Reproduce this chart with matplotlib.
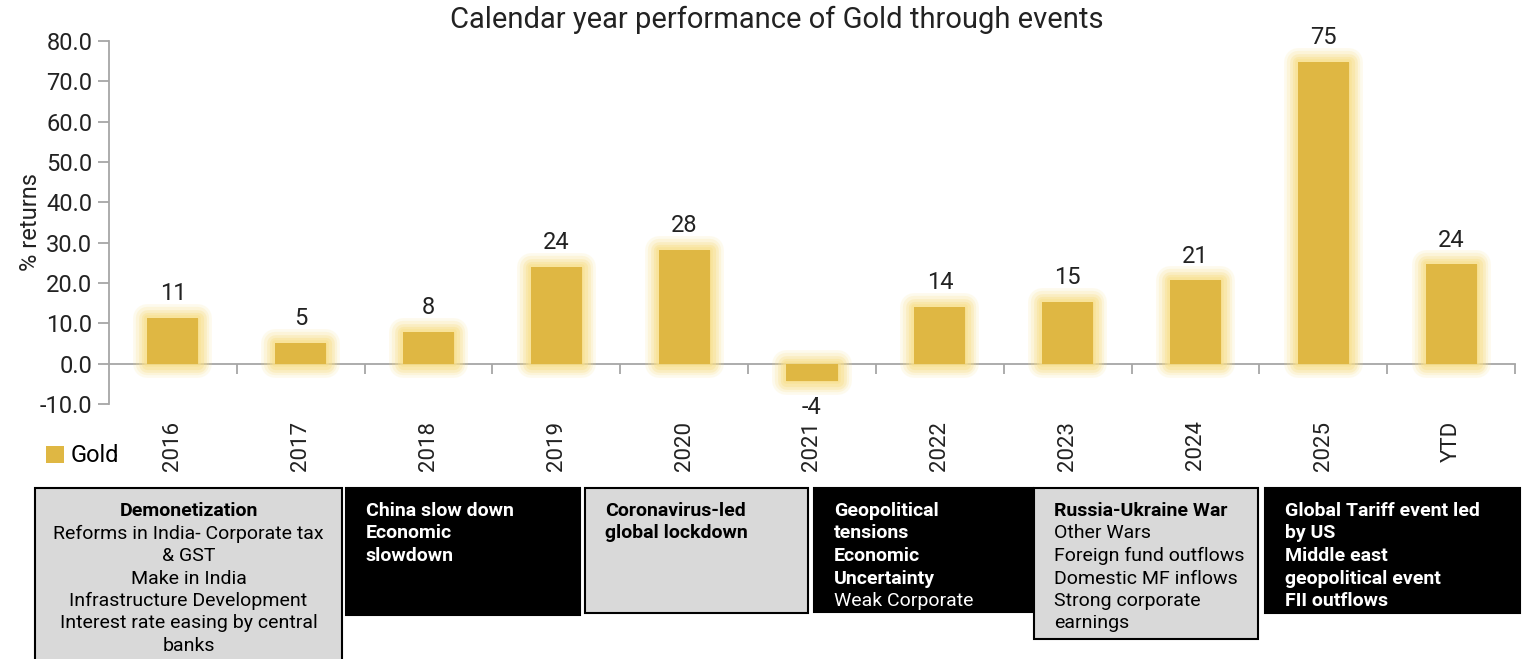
import numpy as np
import matplotlib
matplotlib.use("Agg")
import matplotlib.pyplot as plt
import matplotlib.patheffects as pe
from matplotlib.patches import Rectangle

plt.rcParams['font.family'] = ['Roboto', 'DejaVu Sans']

# data
categories = ['2016', '2017', '2018', '2019', '2020', '2021', '2022', '2023', '2024', '2025', 'YTD']
returns = [11.4, 5.2, 7.9, 24.0, 28.2, -4.2, 14.1, 15.4, 20.7, 74.8, 24.6]
labels = ['11', '5', '8', '24', '28', '-4', '14', '15', '21', '75', '24']

# event boxes: (x0, x1, y0, y1 in px, face, text colour, align, [(line, bold)])
events = [
    (35, 342, 488, 662, '#d9d9d9', 'black', 'center',
     [('Demonetization', True), ('Reforms in India- Corporate tax', False), ('& GST', False),
      ('Make in India', False), ('Infrastructure Development', False),
      ('Interest rate easing by central', False), ('banks', False)]),
    (346, 580, 488, 615, 'black', 'white', 'left',
     [('China slow down', True), ('Economic', True), ('slowdown', True)]),
    (585, 808, 488, 613, '#d9d9d9', 'black', 'left',
     [('Coronavirus-led', True), ('global lockdown', True)]),
    (814, 1033, 488, 612, 'black', 'white', 'left',
     [('Geopolitical', True), ('tensions', True), ('Economic', True), ('Uncertainty', True),
      ('Weak Corporate', False)]),
    (1034, 1258, 488, 639, '#d9d9d9', 'black', 'left',
     [('Russia-Ukraine War', True), ('Other Wars', False), ('Foreign fund outflows', False),
      ('Domestic MF inflows', False), ('Strong corporate', False), ('earnings', False)]),
    (1265, 1520, 488, 613, 'black', 'white', 'left',
     [('Global Tariff event led', True), ('by US', True), ('Middle east', True),
      ('geopolitical event', True), ('FII outflows', True)]),
]

W, H = 1527, 659
fig = plt.figure(figsize=(W / 100, H / 100), dpi=100)
ax = fig.add_axes([109 / W, 1 - 404 / H, (1515 - 109) / W, (404 - 41) / H])

x = np.arange(len(categories))
gold = '#dfb743'
glow = '#f8e08c'
bars = ax.bar(x, returns, width=0.4, color=gold, zorder=3, label='Gold')
for b in bars:
    b.set_path_effects([
        pe.Stroke(linewidth=20, foreground=glow, alpha=0.15, joinstyle='round'),
        pe.Stroke(linewidth=16, foreground=glow, alpha=0.2, joinstyle='round'),
        pe.Stroke(linewidth=12, foreground=glow, alpha=0.3, joinstyle='round'),
        pe.Stroke(linewidth=8, foreground=glow, alpha=0.4, joinstyle='round'),
        pe.Stroke(linewidth=4, foreground=glow, alpha=0.5, joinstyle='round'),
        pe.Normal(),
    ])

txt = '#222222'
for xi, v, lab in zip(x, returns, labels):
    if v >= 0:
        ax.annotate(lab, (xi, v), xytext=(0, 9), textcoords='offset points',
                    ha='center', va='bottom', fontsize=17, color=txt)
    else:
        ax.annotate(lab, (xi, v), xytext=(0, -11), textcoords='offset points',
                    ha='center', va='top', fontsize=17, color=txt)

ax.set_xlim(-0.5, len(categories) - 0.5)
ax.set_ylim(-10, 80)
yt = np.arange(-10, 81, 10)
ax.set_yticks(yt)
ax.set_yticklabels([f'{t:.1f}' for t in yt], fontsize=17, color=txt)

ax.spines['top'].set_visible(False)
ax.spines['right'].set_visible(False)
ax.spines['bottom'].set_position(('data', 0))
for s in ['left', 'bottom']:
    ax.spines[s].set_color('#a6a6a6')
    ax.spines[s].set_linewidth(1.3)
ax.tick_params(axis='y', direction='out', length=8, color='#a6a6a6', width=1.3, pad=4)

ax.set_xticks(x)
ax.set_xticklabels(categories, rotation=90, fontsize=16, color=txt)
ax.tick_params(axis='x', which='major', length=0, pad=41)
ax.set_xticks(np.arange(0.5, len(categories), 1), minor=True)
ax.tick_params(axis='x', which='minor', direction='out', length=7, color='#a6a6a6', width=1.3)

ax.set_ylabel('% returns', fontsize=17, color=txt)
ax.yaxis.set_label_coords(-0.048, 0.5)

fig.text(777 / W, 1 - 20 / H, 'Calendar year performance of Gold through events',
         ha='center', va='center', fontsize=21, color=txt)

leg = fig.legend(handles=[bars[0]], labels=['Gold'], loc='center left',
                 bbox_to_anchor=(46 / W, 1 - 456 / H), frameon=False, fontsize=17,
                 handlelength=0.75, handleheight=0.75, handletextpad=0.3, borderpad=0,
                 borderaxespad=0)
for h in leg.legend_handles:
    h.set_path_effects([])

for x0, x1, y0, y1, face, tcol, align, lines in events:
    fig.add_artist(Rectangle((x0 / W, 1 - y1 / H), (x1 - x0) / W, (y1 - y0) / H,
                             transform=fig.transFigure, facecolor=face,
                             edgecolor='black', linewidth=1.5))
    tx = (x0 + x1) / 2 if align == 'center' else x0 + 20
    for i, (line, bold) in enumerate(lines):
        ty = 511 + i * 22.5
        fig.text(tx / W, 1 - ty / H, line, ha=align, va='center', fontsize=14,
                 color=tcol, fontweight='bold' if bold else 'normal')

fig.savefig('out.png', dpi=100)
